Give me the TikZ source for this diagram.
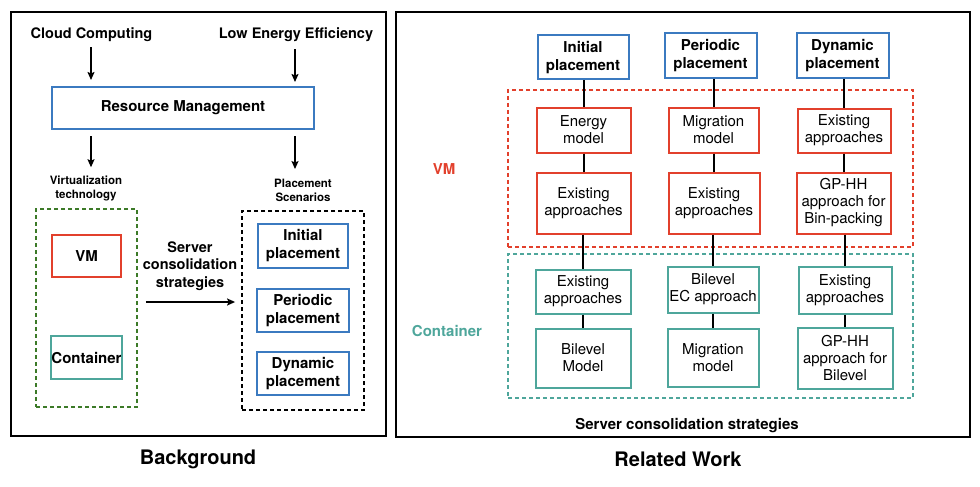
\documentclass[tikz,border=0pt]{standalone}
\usepackage{fontspec}
\setmainfont{TeX Gyre Heros}
\usetikzlibrary{arrows.meta}
\definecolor{cblue}{RGB}{59,122,192}
\definecolor{cred}{RGB}{226,64,44}
\definecolor{cteal}{RGB}{78,166,155}
\definecolor{cgreen}{RGB}{60,122,40}
\begin{document}
\begin{tikzpicture}[x=1pt,y=-1pt,
  sz/.style 2 args={minimum width=#1pt, minimum height=#2pt},
  box/.style={draw, line width=2pt, inner sep=0pt, align=center},
  bluebox/.style={box, draw=cblue, font=\fontsize{15}{18}\selectfont\bfseries},
  redbox/.style={box, draw=cred, font=\fontsize{15}{17}\selectfont},
  tealbox/.style={box, draw=cteal, font=\fontsize{15}{17}\selectfont},
  lbl/.style={inner sep=0pt, align=center, font=\fontsize{14.5}{17.5}\selectfont\bfseries},
  small/.style={inner sep=0pt, align=center, font=\fontsize{11.5}{14}\selectfont\bfseries},
  title/.style={inner sep=0pt, font=\fontsize{20}{24}\selectfont\bfseries},
  arr/.style={-{Stealth[length=8pt,width=7pt,inset=1.5pt]}, line width=1.5pt},
  link/.style={line width=2pt},
  dashbox/.style={draw, line width=1.8pt, dash pattern=on 4pt off 3pt, inner sep=0pt},
  frame/.style={draw, line width=2pt, inner sep=0pt}]
\useasboundingbox (0,0) rectangle (980,487);

% ---------- Background panel ----------
\node[frame, sz={375}{424}] (bgframe) at (198.5,224) {};
\node[lbl] (cc) at (91.5,35) {Cloud Computing};
\node[lbl] (lee) at (296,35) {Low Energy Efficiency};
\node[bluebox, sz={262}{42}] (rm) at (183,108) {Resource Management};
\node[small] (vt) at (86,188) {Virtualization\\technology};
\node[small] (ps) at (303,190.5) {Placement\\Scenarios};
\node[dashbox, draw=cgreen, sz={101}{198}] (vbox) at (86.5,308) {};
\node[box, draw=cred, sz={69}{42}, font=\fontsize{15}{18}\selectfont\bfseries] (vm) at (86.5,256) {VM};
\node[box, draw=cteal, sz={71}{43}, font=\fontsize{15}{18}\selectfont\bfseries] (ct) at (86.5,357.5) {Container};
\node[lbl] (scs) at (190,266) {Server\\consolidation\\strategies};
\node[dashbox, draw=black, sz={122}{199}] (psbox) at (303,310.5) {};
\node[bluebox, sz={90}{44}] (ip) at (303,246) {Initial\\placement};
\node[bluebox, sz={92}{43}] (pp) at (303,310.5) {Periodic\\placement};
\node[bluebox, sz={92}{43}] (dp) at (303,373.5) {Dynamic\\placement};
\node[title] (bgt) at (198,459) {Background};
\coordinate (arrowy) at (0,302);
\coordinate (colL) at (91,0);
\coordinate (colR) at (295,0);

\draw[arr, shorten <=5pt, shorten >=6pt] (cc.south -| colL) -- (rm.north -| colL);
\draw[arr, shorten <=7pt, shorten >=4pt] (lee.south -| colR) -- (rm.north -| colR);
\draw[arr, shorten <=6pt, shorten >=8pt] (rm.south -| colL) -- (vt.north -| colL);
\draw[arr, shorten <=6pt, shorten >=10pt] (rm.south -| colR) -- (ps.north -| colR);
\draw[arr, shorten <=8pt, shorten >=6pt] (vbox.east |- arrowy) -- (psbox.west |- arrowy);

% ---------- Related Work panel ----------
\node[frame, sz={574}{425}] (rwframe) at (683,224.5) {};
\node[bluebox, sz={91}{44}] (ipR) at (583,57.5) {Initial\\placement};
\node[bluebox, sz={92}{45}] (ppR) at (710.5,56) {Periodic\\placement};
\node[bluebox, sz={92}{45}] (dpR) at (842.5,56) {Dynamic\\placement};

\node[dashbox, draw=cred, sz={405}{157}] (vmzone) at (710.5,168.5) {};
\node[dashbox, draw=cteal, sz={405}{144}] (ctzone) at (710.5,326) {};
\node[inner sep=0pt, text=cred, font=\fontsize{15}{18}\selectfont\bfseries] (vml) at (444,169) {VM};
\node[inner sep=0pt, text=cteal, font=\fontsize{15}{18}\selectfont\bfseries] (ctl) at (447,331) {Container};

\node[redbox, sz={94}{45}] (emR) at (583.5,130) {Energy\\model};
\node[redbox, sz={90}{45}] (mmR) at (713.5,130) {Migration\\model};
\node[redbox, sz={93}{44}] (ea1R) at (844,130.5) {Existing\\approaches};
\node[redbox, sz={94}{61}] (ea2R) at (583.5,203) {Existing\\approaches};
\node[redbox, sz={91}{61}] (ea3R) at (714,203) {Existing\\approaches};
\node[redbox, sz={94}{61}] (gpR) at (843.5,203) {GP-HH\\approach for\\Bin-packing};

\node[tealbox, sz={95}{44}] (ea1T) at (583,291.5) {Existing\\approaches};
\node[tealbox, sz={91}{46}] (beT) at (713,289.5) {Bilevel\\EC approach};
\node[tealbox, sz={93}{47}] (ea2T) at (845,290) {Existing\\approaches};
\node[tealbox, sz={95}{59}] (bmT) at (583,358) {Bilevel\\Model};
\node[tealbox, sz={91}{58}] (mmT) at (713,357.5) {Migration\\model};
\node[tealbox, sz={95}{61}] (gpT) at (845,358) {GP-HH\\approach for\\Bilevel};

\node[inner sep=0pt, font=\fontsize{15}{18}\selectfont\bfseries] (scsR) at (687,426) {Server consolidation strategies};
\node[title] (rwt) at (678,459) {Related Work};

\foreach \a/\b in {ipR/emR, emR/ea2R, ea2R/ea1T, ea1T/bmT,
                   ppR/mmR, mmR/ea3R, ea3R/beT, beT/mmT,
                   dpR/ea1R, ea1R/gpR, gpR/ea2T, ea2T/gpT}
  \draw[link] (\a.south -| \b.north) -- (\b.north);
\end{tikzpicture}
\end{document}
